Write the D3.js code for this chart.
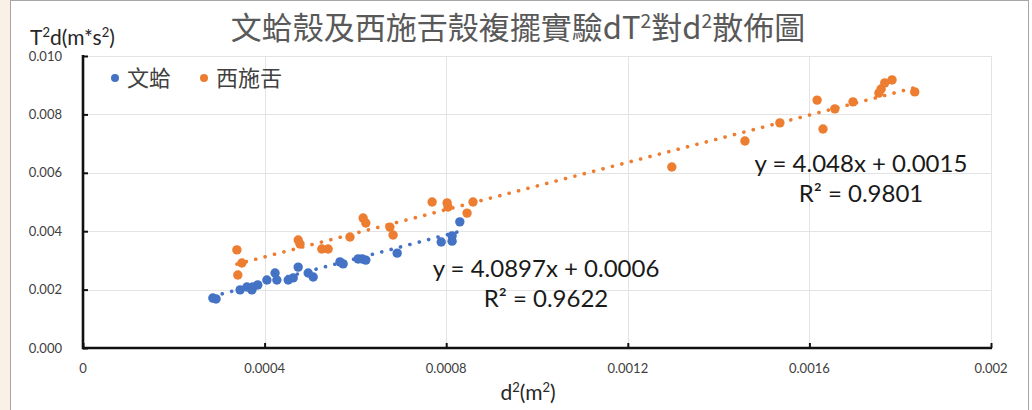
<!DOCTYPE html>
<html>
<head>
<meta charset="utf-8">
<script src="https://cdn.jsdelivr.net/npm/d3@7/dist/d3.min.js"></script>
<style>
  html, body { margin: 0; padding: 0; background: #ffffff; }
  svg { display: block; }
</style>
</head>
<body>
<svg id="chart" width="1032" height="410"></svg>
<script>
// Series: 文蛤 (hard clam) and 西施舌 shell pendulum measurements
const seriesNames = ["文蛤", "西施舌"];

const clamX = [0.000286, 0.000293, 0.000346, 0.000361, 0.000372, 0.000374, 0.000385,
  0.000405, 0.000423, 0.000427, 0.000452, 0.000463, 0.000474, 0.000496, 0.000507,
  0.000566, 0.000573, 0.000606, 0.000615, 0.000623, 0.000692, 0.000789, 0.000813,
  0.000813, 0.000830];
const clamY = [0.00171, 0.00168, 0.00199, 0.00209, 0.00199, 0.00209, 0.00216,
  0.00233, 0.00257, 0.00233, 0.00233, 0.00240, 0.00277, 0.00257, 0.00243,
  0.00295, 0.00288, 0.00305, 0.00305, 0.00301, 0.00325, 0.00363, 0.00384,
  0.00366, 0.00432];

const tongueX = [0.000339, 0.000350, 0.000341, 0.000474, 0.000478, 0.000526, 0.000540,
  0.000588, 0.000617, 0.000623, 0.000676, 0.000683, 0.000769, 0.000802, 0.000804,
  0.000846, 0.000859, 0.001297, 0.001458, 0.001535, 0.001617, 0.001630, 0.001656,
  0.001696, 0.001753, 0.001758, 0.001766, 0.001782, 0.001832];
const tongueY = [0.00336, 0.00291, 0.00250, 0.00370, 0.00356, 0.00339, 0.00339,
  0.00380, 0.00445, 0.00428, 0.00414, 0.00387, 0.00500, 0.00497, 0.00483,
  0.00462, 0.00500, 0.00620, 0.00709, 0.00771, 0.00849, 0.00750, 0.00819,
  0.00843, 0.00873, 0.00887, 0.00908, 0.00918, 0.00877];

// Linear trend lines (slope, intercept, R²)
const clamFit = [4.0897, 0.0006, 0.9622];
const tongueFit = [4.048, 0.0015, 0.9801];

const xTickValues = [0, 0.0004, 0.0008, 0.0012, 0.0016, 0.002];
const xTickLabels = ["0", "0.0004", "0.0008", "0.0012", "0.0016", "0.002"];
const yTickValues = [0, 0.002, 0.004, 0.006, 0.008, 0.010];
const yTickLabels = ["0.000", "0.002", "0.004", "0.006", "0.008", "0.010"];

// text pieces: [string, isSuperscript]
const titleParts = [["文蛤殼及西施舌殼複擺實驗dT", false], ["2", true], ["對d", false], ["2", true], ["散佈圖", false]];
const xTitleParts = [["d", false], ["2", true], ["(m", false], ["2", true], [")", false]];
const yTitleParts = [["T", false], ["2", true], ["d(m*s", false], ["2", true], [")", false]];

const blue = "#4472C4", orange = "#ED7D31";
const textColor = "#404040";
const latin = "Lato, 'Noto Sans CJK TC', sans-serif";
const cjk = "'Noto Sans CJK TC', 'Noto Sans', sans-serif";

const svg = d3.select("#chart");

// page frame
svg.append("rect").attr("x", 0).attr("y", 0).attr("width", 10).attr("height", 410).attr("fill", "#faf1e6");
svg.append("rect").attr("x", 10.5).attr("y", 0.5).attr("width", 1018).attr("height", 412)
  .attr("fill", "#ffffff").attr("stroke", "#a6a6a6").attr("stroke-width", 1);

const x = d3.scaleLinear().domain([0, 0.002]).range([83, 991]);
const y = d3.scaleLinear().domain([0, 0.010]).range([348, 56]);

// gridlines
const grid = svg.append("g");
grid.selectAll("line.h").data(yTickValues.slice(1)).join("line")
  .attr("x1", x(0)).attr("x2", x(0.002))
  .attr("y1", d => Math.round(y(d)) + 0.5).attr("y2", d => Math.round(y(d)) + 0.5)
  .attr("stroke", "#e3e3e3").attr("stroke-width", 1);
grid.selectAll("line.v").data(xTickValues.slice(1)).join("line")
  .attr("y1", y(0)).attr("y2", y(0.010))
  .attr("x1", d => Math.round(x(d)) + 0.5).attr("x2", d => Math.round(x(d)) + 0.5)
  .attr("stroke", "#e3e3e3").attr("stroke-width", 1);

// axes: heavy black lines with inward ticks
const xAxis = d3.axisTop(x).tickValues(xTickValues).tickSize(5).tickFormat("");
const yAxis = d3.axisRight(y).tickValues(yTickValues).tickSize(5).tickFormat("");
const gx = svg.append("g").attr("transform", `translate(0,${y(0)})`).call(xAxis);
const gy = svg.append("g").attr("transform", `translate(${x(0)},0)`).call(yAxis);
[gx, gy].forEach(g => {
  g.select(".domain").remove();
  g.selectAll(".tick line").attr("stroke", "#111").attr("stroke-width", 2);
});
svg.append("line").attr("x1", x(0)).attr("x2", x(0.002) + 1).attr("y1", y(0)).attr("y2", y(0))
  .attr("stroke", "#111").attr("stroke-width", 2.6);
svg.append("line").attr("x1", x(0)).attr("x2", x(0)).attr("y1", y(0.010) - 1).attr("y2", y(0) + 1.3)
  .attr("stroke", "#111").attr("stroke-width", 2.6);

// tick labels
svg.append("g").selectAll("text").data(xTickValues).join("text")
  .attr("x", d => x(d)).attr("y", 373)
  .attr("text-anchor", "middle").attr("font-family", latin).attr("font-size", 13)
  .attr("fill", textColor).text((d, i) => xTickLabels[i]);
svg.append("g").selectAll("text").data(yTickValues).join("text")
  .attr("x", 62).attr("y", d => y(d) + 4.5)
  .attr("text-anchor", "end").attr("font-family", latin).attr("font-size", 13)
  .attr("fill", textColor).text((d, i) => yTickLabels[i]);

// trend lines (round-dot style), spanning each series' x range
function trend(xs, fit, color) {
  const [m, b] = fit;
  const x0 = d3.min(xs), x1 = d3.max(xs);
  svg.append("line")
    .attr("x1", x(x0)).attr("y1", y(m * x0 + b))
    .attr("x2", x(x1)).attr("y2", y(m * x1 + b))
    .attr("stroke", color).attr("stroke-width", 3.6)
    .attr("stroke-linecap", "round").attr("stroke-dasharray", "0.1 9.6");
}
trend(clamX, clamFit, blue);
trend(tongueX, tongueFit, orange);

// scatter points
function points(xs, ys, color) {
  svg.append("g").selectAll("circle").data(xs).join("circle")
    .attr("cx", d => x(d)).attr("cy", (d, i) => y(ys[i]))
    .attr("r", 4.7).attr("fill", color);
}
points(clamX, clamY, blue);
points(tongueX, tongueY, orange);

// equations
function equation(fit, cx, ty) {
  const [m, b, r2] = fit;
  svg.append("text").attr("x", cx).attr("y", ty)
    .attr("text-anchor", "middle").attr("font-family", latin).attr("font-size", 24)
    .attr("fill", "#1a1a1a").text(`y = ${m}x + ${b}`);
  svg.append("text").attr("x", cx).attr("y", ty + 30)
    .attr("text-anchor", "middle").attr("font-family", latin).attr("font-size", 24)
    .attr("fill", "#1a1a1a").text(`R² = ${r2}`);
}
equation(clamFit, 546, 277);
equation(tongueFit, 861, 172);

// legend
const legend = [[seriesNames[0], blue, 115], [seriesNames[1], orange, 204]];
legend.forEach(([name, color, lx]) => {
  svg.append("circle").attr("cx", lx).attr("cy", 78).attr("r", 4).attr("fill", color);
  svg.append("text").attr("x", lx + 12).attr("y", 86)
    .attr("font-family", cjk).attr("font-size", 22).attr("fill", textColor).text(name);
});

// text with raised superscripts
function richText(parts, tx, ty, size, family, color, anchor) {
  const t = svg.append("text").attr("x", tx).attr("y", ty)
    .attr("text-anchor", anchor).attr("font-family", family)
    .attr("font-size", size).attr("fill", color);
  parts.forEach(([s, sup]) => {
    const sp = t.append("tspan").text(s);
    if (sup) sp.attr("font-size", size * 0.62).attr("baseline-shift", "60%");
  });
}
richText(titleParts, 518, 39, 31, cjk, "#595959", "middle");
richText(yTitleParts, 30, 45, 21, latin, "#262626", "start");
richText(xTitleParts, 528, 400, 21, latin, "#262626", "middle");
</script>
</body>
</html>
